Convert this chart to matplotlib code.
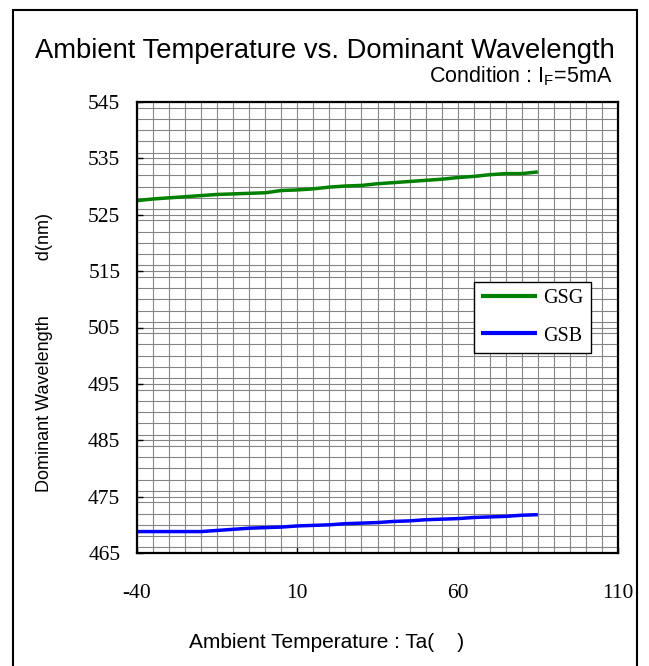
import matplotlib
matplotlib.use("Agg")
import matplotlib.pyplot as plt
from matplotlib.ticker import MultipleLocator
from matplotlib.patches import Rectangle

plt.rcParams["axes.unicode_minus"] = False

# ---- data ----
temps = [-40, -35, -30, -25, -20, -15, -10, -5, 0, 5, 10, 15, 20, 25, 30,
         35, 40, 45, 50, 55, 60, 65, 70, 75, 80, 85]
gsg = [527.5, 527.8, 528.0, 528.2, 528.4, 528.6, 528.7, 528.8, 528.9, 529.3,
       529.4, 529.6, 529.9, 530.1, 530.2, 530.5, 530.7, 530.9, 531.1, 531.3,
       531.6, 531.8, 532.1, 532.3, 532.3, 532.6]
gsb = [468.8, 468.8, 468.8, 468.8, 468.8, 469.0, 469.2, 469.4, 469.5, 469.6,
       469.8, 469.9, 470.0, 470.2, 470.3, 470.4, 470.6, 470.7, 470.9, 471.0,
       471.1, 471.3, 471.4, 471.5, 471.7, 471.8]
series_names = ["GSG", "GSB"]
series_colors = ["#008000", "#0000FF"]
x_ticks = [-40, 10, 60, 110]
y_ticks = [465, 475, 485, 495, 505, 515, 525, 535, 545]

SANS = ["Liberation Sans", "DejaVu Sans"]
SERIF = ["Liberation Serif", "DejaVu Serif"]

fig = plt.figure(figsize=(6.49, 6.66), dpi=100)
ax = fig.add_axes([137/649, 1-553/666, (618-137)/649, (553-102)/666])

ax.plot(temps, gsg, color=series_colors[0], lw=2.5, label=series_names[0], solid_capstyle="butt")
ax.plot(temps, gsb, color=series_colors[1], lw=2.5, label=series_names[1], solid_capstyle="butt")

ax.set_xlim(-40, 110)
ax.set_ylim(465, 545)
ax.set_xticks(x_ticks)
ax.set_yticks(y_ticks)
ax.xaxis.set_minor_locator(MultipleLocator(5))
ax.yaxis.set_minor_locator(MultipleLocator(2))
ax.grid(True, which="both", color="#858585", lw=0.8)
ax.set_axisbelow(True)
ax.tick_params(which="major", direction="in", length=4, width=1, color="black",
               top=False, right=False)
ax.tick_params(which="minor", length=0)
ax.tick_params(axis="x", pad=22)
ax.tick_params(axis="y", pad=12)
for lab in ax.get_xticklabels() + ax.get_yticklabels():
    lab.set_family(SERIF)
    lab.set_fontsize(15.5)
for sp in ax.spines.values():
    sp.set_linewidth(1.6)
    sp.set_color("black")

fig.text(327/649, 1-642/666, "Ambient Temperature : Ta(    )", family=SANS,
         fontsize=15, ha="center", va="center")
fig.text(45/649, 1-352/666, "Dominant Wavelength           d(nm)", family=SANS,
         fontsize=13, ha="center", va="center", rotation=90)

leg = ax.legend(loc="upper left", bbox_to_anchor=(0.700, 0.601), borderaxespad=0,
                prop={"family": SERIF, "size": 14.5}, handlelength=2.8,
                handletextpad=0.3, labelspacing=0.9, borderpad=0.36,
                fancybox=False, framealpha=1, edgecolor="black")
leg.get_frame().set_linewidth(1.0)
for h in leg.get_lines():
    h.set_linewidth(3)

fig.text(0.5, 1-58/666, "Ambient Temperature vs. Dominant Wavelength",
         family=SANS, fontsize=19.7, ha="center", va="baseline")
fig.text(612/649, 1-82/666, r"Condition : I$_\mathregular{F}$=5mA",
         family=SANS, fontsize=15.5, ha="right", va="baseline")

border = Rectangle((13/649, -0.05), (637-13)/649, 1-10/666+0.05,
                   transform=fig.transFigure, fill=False, edgecolor="black",
                   lw=1.5, clip_on=False)
fig.patches.append(border)

fig.savefig("out.png", dpi=100)
